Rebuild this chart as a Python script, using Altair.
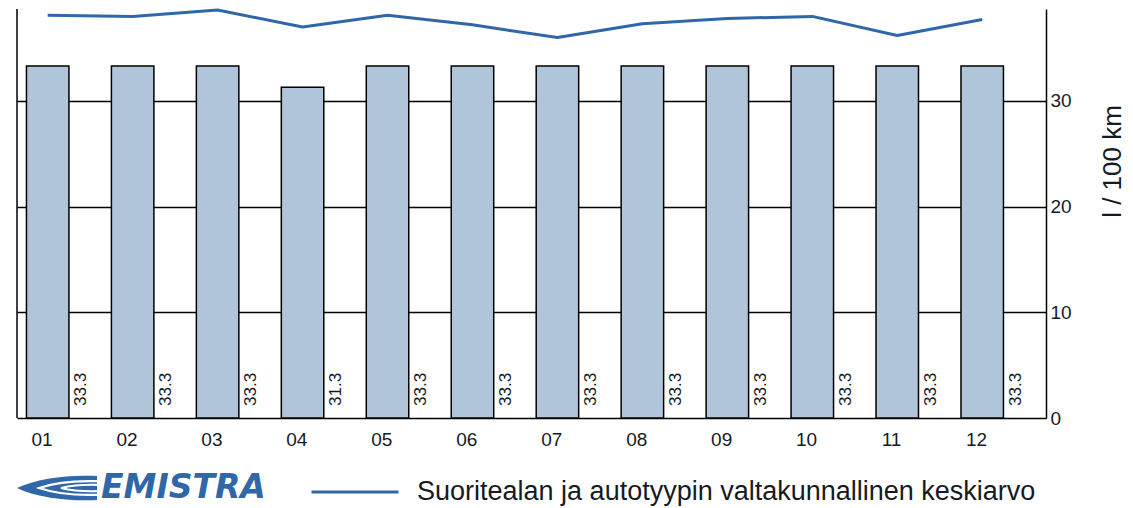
import altair as alt
import pandas as pd

# ---- data ----
months = ["01", "02", "03", "04", "05", "06", "07", "08", "09", "10", "11", "12"]
consumption = [33.3, 33.3, 33.3, 31.3, 33.3, 33.3, 33.3, 33.3, 33.3, 33.3, 33.3, 33.3]
national_avg = [38.1, 38.0, 38.6, 37.0, 38.1, 37.2, 36.0, 37.3, 37.8, 38.0, 36.2, 37.7]
series_label = "Suoritealan ja autotyypin valtakunnallinen keskiarvo"
y_ticks = [0, 10, 20, 30]
y_title = "l / 100 km"
logo_text = "EMISTRA"

df = pd.DataFrame({
    "month": months,
    "value": consumption,
    "avg": national_avg,
    "series": [series_label] * len(months),
})

PLOT_W = 1029
PLOT_H = 409
FONT = "Liberation Sans"
TEXT = "#161a24"
BLUE = "#2f67a8"

xscale = alt.Scale(domain=months, paddingInner=0, paddingOuter=0.056, align=1)
yscale = alt.Scale(domain=[0, 38.7], nice=False, zero=True)

x_axis = alt.Axis(title=None, labelAngle=0, ticks=False, domain=False,
                  labelFontSize=19, labelFont=FONT, labelColor=TEXT,
                  labelPadding=12, labelOffset=-27, grid=False)
y_axis = alt.Axis(orient="right", values=y_ticks, grid=True,
                  gridColor="black", gridWidth=1.5, gridOpacity=1,
                  domainColor="black", domainWidth=1.5, ticks=False,
                  labelPadding=4, labelFontSize=19, labelFont=FONT,
                  labelColor=TEXT, title=y_title, titleFontSize=26,
                  titleFont=FONT, titleFontWeight="normal",
                  titleColor=TEXT, titleAngle=270, titleAlign="center",
                  titleBaseline="middle", titleX=66, titleY=152)

X = alt.X("month:O", scale=xscale, sort=months, axis=x_axis, title=None)

base = alt.Chart(df)

bars = base.mark_bar(
    width=alt.RelativeBandSize(0.5), xOffset=-21.3,
    fill="#b0c4da", stroke="black", strokeWidth=1.5,
).encode(
    x=X,
    y=alt.Y("value:Q", scale=yscale, axis=y_axis, title=y_title),
)

labels = base.mark_text(
    angle=270, align="left", baseline="middle", fontSize=17,
    font=FONT, color=TEXT, xOffset=12, yOffset=-12,
).encode(
    x=X,
    y=alt.Y(datum=0, scale=yscale, axis=y_axis, title=y_title),
    text=alt.Text("value:Q", format=".1f"),
)

line = base.mark_line(strokeWidth=3, xOffset=-21.3, strokeJoin="round").encode(
    x=X,
    y=alt.Y("avg:Q", scale=yscale, axis=y_axis, title=y_title),
    color=alt.Color("series:N", scale=alt.Scale(range=[BLUE]),
                    legend=alt.Legend(orient="none", legendX=293, legendY=468,
                                      title=None, symbolType="stroke",
                                      symbolSize=7569, symbolStrokeWidth=3,
                                      clipHeight=30,
                                      labelFontSize=27, labelFont=FONT,
                                      labelColor=TEXT, labelOffset=17,
                                      padding=0, labelLimit=0)),
)

left_rule = alt.Chart(pd.DataFrame({"k": [0]})).mark_rule(
    color="black", strokeWidth=1.5
).encode(x=alt.value(0), y=alt.value(0), y2=alt.value(PLOT_H))

# logo: swoosh approximation + wordmark
logo_df = pd.DataFrame({"t": [logo_text]})
swoosh = alt.Chart(logo_df).mark_point(
    shape="M 1,-0.3 C 0.3,-0.34 -0.5,-0.24 -1,0 C -0.5,0.24 0.3,0.34 1,0.3 Z",
    size=6400, filled=True, fill=BLUE, stroke=None, opacity=1,
).encode(x=alt.value(40), y=alt.value(479))
swoosh_cut1 = alt.Chart(logo_df).mark_point(
    shape="M 1,-0.17 C 0.4,-0.19 -0.1,-0.12 -0.45,0 C -0.1,0.12 0.4,0.19 1,0.17",
    size=6400, filled=False, stroke="white", strokeWidth=2.2, opacity=1,
).encode(x=alt.value(40), y=alt.value(479))
swoosh_cut2 = alt.Chart(logo_df).mark_point(
    shape="M 1,-0.08 C 0.6,-0.09 0.3,-0.05 0.1,0 C 0.3,0.05 0.6,0.09 1,0.08",
    size=6400, filled=False, stroke="white", strokeWidth=2.2, opacity=1,
).encode(x=alt.value(40), y=alt.value(479))
logo = alt.Chart(logo_df).mark_text(
    align="left", baseline="alphabetic", font="DejaVu Sans", fontSize=33,
    fontStyle="italic", fontWeight="bold", color=BLUE,
).encode(x=alt.value(84), y=alt.value(489), text="t:N")

chart = alt.layer(bars, labels, line, left_rule, swoosh, swoosh_cut1,
                  swoosh_cut2, logo).properties(
    width=PLOT_W, height=PLOT_H,
    padding={"left": 8, "top": 0, "right": 0, "bottom": 0},
).configure(background="white").configure_view(stroke=None)

chart.save("out.html", embed_options={"renderer": "svg", "actions": False})
